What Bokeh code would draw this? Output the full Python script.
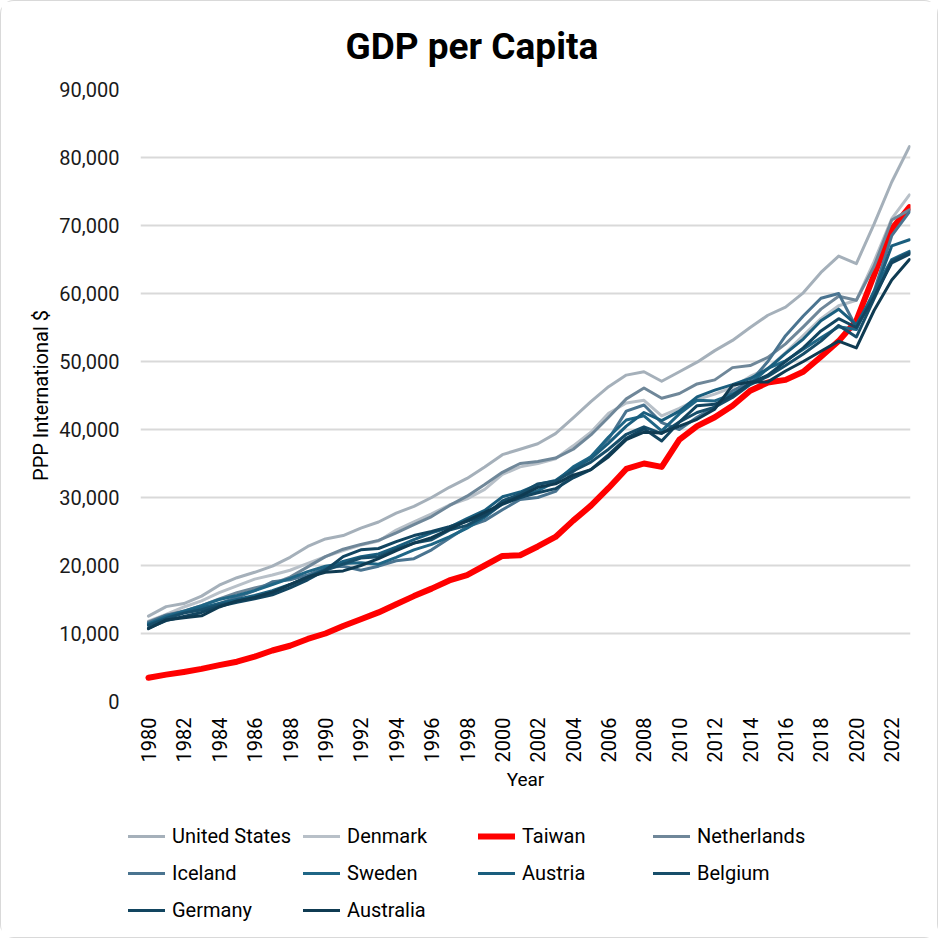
from bokeh.plotting import figure
from bokeh.models import Legend, LegendItem, NumeralTickFormatter, FixedTicker, Range1d
from bokeh.embed import file_html
from bokeh.resources import INLINE
import math

years = list(range(1980, 2024))
tick_years = list(range(1980, 2023, 2))

countries = ["United States", "Denmark", "Taiwan", "Netherlands", "Iceland",
             "Sweden", "Austria", "Belgium", "Germany", "Australia"]
colors = ["#A5B0BA", "#B8C0C8", "#FF0000", "#6F8799", "#4A7490",
          "#1F6686", "#1A5E7E", "#174E6A", "#124560", "#0F3B52"]

united_states = [12550, 13950, 14400, 15500, 17100, 18200, 19000, 19900, 21200, 22800,
                 23900, 24400, 25500, 26400, 27700, 28700, 30000, 31500, 32800, 34500,
                 36300, 37100, 37900, 39400, 41700, 44100, 46300, 48000, 48500, 47100,
                 48500, 49900, 51600, 53100, 55000, 56800, 58000, 60100, 63100, 65500,
                 64400, 70200, 76400, 81600]
denmark = [11800, 12800, 13900, 14800, 16000, 17000, 18000, 18600, 19300, 20300,
           21300, 22200, 23000, 23600, 25200, 26400, 27600, 28900, 29800, 31200,
           33400, 34500, 35000, 35700, 37600, 39600, 42400, 43900, 44300, 42000,
           43100, 44400, 45200, 46200, 47800, 49000, 51300, 53800, 56300, 58200,
           59000, 64700, 71000, 74500]
taiwan = [3500, 3950, 4350, 4800, 5350, 5850, 6600, 7500, 8200, 9200,
          10000, 11100, 12100, 13100, 14300, 15500, 16600, 17800, 18600, 20000,
          21400, 21500, 22800, 24200, 26600, 28800, 31400, 34200, 35000, 34500,
          38500, 40500, 41800, 43500, 45700, 46900, 47300, 48500, 50700, 53000,
          56000, 62700, 69500, 72700]
netherlands = [11700, 12700, 13300, 14100, 15100, 16000, 16700, 17300, 18300, 19800,
               21300, 22400, 23100, 23700, 24800, 26000, 27200, 28800, 30200, 31900,
               33700, 35000, 35300, 35800, 37100, 39200, 41800, 44500, 46100, 44600,
               45300, 46700, 47300, 49100, 49400, 50600, 52600, 55100, 57700, 59600,
               59000, 64000, 70800, 72300]
iceland = [11600, 12700, 13200, 13500, 14400, 15300, 16300, 17600, 17900, 18600,
           19700, 19900, 19300, 19900, 20700, 21000, 22300, 24000, 25700, 26600,
           28200, 29700, 30000, 30900, 33800, 36000, 38600, 42700, 43600, 41000,
           40000, 41800, 43300, 45700, 47000, 50000, 53800, 56700, 59300, 60000,
           55000, 60300, 68500, 72000]
sweden = [11400, 12500, 13300, 14100, 15000, 15600, 16300, 17200, 18100, 19100,
          19900, 20300, 20400, 20200, 21200, 22300, 23100, 24200, 25500, 27100,
          29100, 30000, 31000, 32300, 34500, 36000, 38900, 41400, 42000, 39800,
          42300, 44300, 44200, 45200, 46700, 49000, 50100, 51800, 53500, 55100,
          54700, 60300, 65000, 66200]
austria = [11300, 12300, 13100, 13800, 14400, 15000, 15600, 16300, 17200, 18300,
           19500, 20600, 21300, 21700, 22700, 23800, 24800, 25600, 26900, 28100,
           30100, 30800, 31900, 32500, 34300, 35700, 38000, 40500, 42500, 41300,
           42700, 44800, 45800, 46600, 47500, 48900, 51200, 53300, 56000, 57700,
           55400, 60000, 67000, 67900]
belgium = [11200, 12200, 13000, 13500, 14200, 14700, 15300, 16000, 17200, 18300,
           19300, 20200, 21100, 21300, 22400, 23300, 23800, 25200, 25900, 27300,
           29500, 30500, 32000, 32400, 33900, 35200, 37100, 39300, 40400, 39400,
           41100, 42500, 43300, 44700, 46600, 47800, 49400, 51100, 53000, 55300,
           53600, 59200, 64800, 66000]
germany = [10800, 11900, 12500, 13100, 14000, 14600, 15100, 15700, 16700, 17900,
           19300, 21300, 22300, 22500, 23500, 24400, 25000, 25700, 26500, 27400,
           29000, 30000, 30700, 31300, 32900, 34100, 36300, 38700, 40100, 38300,
           41100, 43500, 43700, 45000, 46800, 48000, 50000, 52000, 54500, 56300,
           55000, 59500, 64500, 65800]
australia = [10700, 12000, 12300, 12600, 13900, 14800, 15300, 16100, 17200, 18300,
             19000, 19200, 20000, 21000, 22200, 23300, 24100, 25300, 26600, 27800,
             29100, 30200, 31500, 32000, 33300, 34100, 36000, 38500, 39600, 39500,
             40500, 41500, 43000, 46500, 47000, 47000, 48600, 50000, 51500, 53000,
             52000, 57500, 62000, 65000]

series = [united_states, denmark, taiwan, netherlands, iceland,
          sweden, austria, belgium, germany, australia]

FONT = "Roboto"
BORDER = "1px solid #d9d9d9"

p = figure(width=938, height=800, output_backend="svg", toolbar_location=None,
           x_range=Range1d(1979.55, 2023.06), y_range=Range1d(0, 90000),
           min_border_left=139, min_border_right=29, min_border_top=87,
           min_border_bottom=100)
p.styles = {"border-top": BORDER, "border-left": BORDER, "border-right": BORDER,
            "border-radius": "14px 14px 0 0"}
p.outline_line_color = None

p.title.text = "GDP per Capita"
p.title.align = "left"
p.title.offset = 205
p.title.text_font = FONT
p.title.text_font_size = "37px"
p.title.text_font_style = "bold"
p.title.text_color = "#000000"
p.title.standoff = 43

# axes
p.yaxis.ticker = FixedTicker(ticks=list(range(0, 90001, 10000)))
p.yaxis.formatter = NumeralTickFormatter(format="0,0")
p.yaxis.axis_line_color = None
p.yaxis.major_tick_line_color = None
p.yaxis.minor_tick_line_color = None
p.yaxis.major_label_text_font = FONT
p.yaxis.major_label_text_font_size = "20px"
p.yaxis.major_label_text_color = "#1a1a1a"
p.yaxis.major_label_standoff = 15
p.yaxis.axis_label = "PPP International $"
p.yaxis.axis_label_text_font = FONT
p.yaxis.axis_label_text_font_size = "20px"
p.yaxis.axis_label_text_font_style = "normal"
p.yaxis.axis_label_text_color = "#000000"
p.yaxis.axis_label_standoff = 3

p.xaxis.ticker = FixedTicker(ticks=tick_years)
p.xaxis.axis_line_color = None
p.xaxis.major_tick_line_color = None
p.xaxis.minor_tick_line_color = None
p.xaxis.major_label_orientation = math.pi / 2
p.xaxis.major_label_text_font = FONT
p.xaxis.major_label_text_font_size = "20px"
p.xaxis.major_label_text_color = "#000000"
p.xaxis.major_label_standoff = 10
p.xaxis.axis_label = "Year"
p.xaxis.axis_label_text_font = FONT
p.xaxis.axis_label_text_font_size = "19px"
p.xaxis.axis_label_text_font_style = "normal"
p.xaxis.axis_label_text_color = "#000000"
p.xaxis.axis_label_standoff = 3

p.xgrid.grid_line_color = None
p.ygrid.grid_line_color = "#D9D9D9"
p.ygrid.grid_line_width = 2

for name, vals, col in zip(countries, series, colors):
    lw = 6 if name == "Taiwan" else 3
    p.line(years, vals, line_color=col, line_width=lw,
           line_join="round", line_cap="round")

# legend panel below the chart (series drawn outside its visible range,
# only their legend glyphs show)
q = figure(width=938, height=138, output_backend="svg", toolbar_location=None,
           x_range=Range1d(0, 1), y_range=Range1d(0, 1),
           min_border=0, x_axis_type=None, y_axis_type=None)
q.styles = {"border-bottom": BORDER, "border-left": BORDER, "border-right": BORDER,
            "border-radius": "0 0 14px 14px"}
q.outline_line_color = None
q.xgrid.visible = False
q.ygrid.visible = False

items = []
for name, vals, col in zip(countries, series, colors):
    lw = 6 if name == "Taiwan" else 3
    r = q.line(years, vals, line_color=col, line_width=lw, line_cap="round")
    items.append(LegendItem(label=name, renderers=[r]))

legend = Legend(items=items, orientation="horizontal", ncols=4,
                location=(127, 13), margin=0, padding=0,
                border_line_alpha=0, background_fill_alpha=0,
                glyph_width=37, glyph_height=30, label_height=30,
                label_width=124, label_standoff=7, spacing=7,
                label_text_font=FONT, label_text_font_size="20px",
                label_text_color="#000000")
q.add_layout(legend, "center")

open("out.html", "w").write(file_html([p, q], INLINE))
